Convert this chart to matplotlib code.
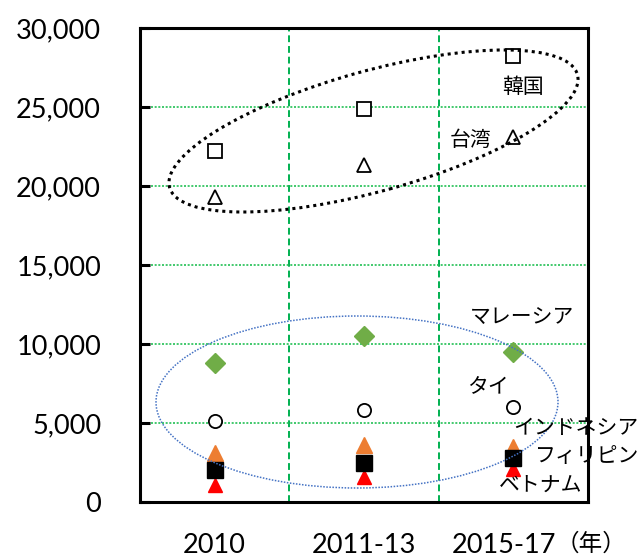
import matplotlib.pyplot as plt
import matplotlib.transforms as mtransforms
from matplotlib.patches import Ellipse
from matplotlib import ticker

periods = ["2010", "2011-13", "2015-17"]
korea = [22200, 24900, 28200]
taiwan = [19300, 21300, 23100]
malaysia = [8800, 10500, 9500]
thailand = [5100, 5800, 6000]
indonesia = [3100, 3600, 3500]
philippines = [2000, 2500, 2800]
vietnam = [1100, 1600, 2100]

W, H = 637, 556
fig = plt.figure(figsize=(W / 100, H / 100), dpi=100)
ax = fig.add_axes([140 / W, 54 / H, 448 / W, 474 / H])

x = [i + 0.5 for i in range(len(periods))]

# series: marker, size, face, edge
ax.plot(x, korea, "s", ms=9.5, mfc="white", mec="black", mew=1.3, zorder=5)
ax.plot(x, taiwan, "^", ms=9.5, mfc="white", mec="black", mew=1.3, zorder=5)
ax.plot(x, malaysia, "D", ms=10, mfc="#70AD47", mec="#70AD47", zorder=5)
ax.plot(x, thailand, "o", ms=9.5, mfc="white", mec="black", mew=1.3, zorder=5)
ax.plot(x, indonesia, "^", ms=12, mfc="#ED7D31", mec="#ED7D31", zorder=5)
ax.plot(x, vietnam, "^", ms=10, mfc="red", mec="red", zorder=6)
ax.plot(x, philippines, "s", ms=11.5, mfc="black", mec="black", zorder=7)

ax.set_xlim(0, 3)
ax.set_ylim(0, 30000)
ax.yaxis.set_major_locator(ticker.MultipleLocator(5000))
ax.yaxis.set_major_formatter(ticker.StrMethodFormatter("{x:,.0f}"))
ax.set_xticks(x)
ax.set_xticklabels(periods)

# grid
for v in [1, 2]:
    ax.axvline(v, color="#00B050", lw=1.4, ls=(0, (3.5, 2)), zorder=1)
for h in range(5000, 30001, 5000):
    ax.axhline(h, color="#22C055", lw=1.2, ls=(0, (1.2, 1)), zorder=1)

for s in ax.spines.values():
    s.set_linewidth(2.2)
    s.set_zorder(8)
ax.tick_params(axis="y", direction="in", length=7, width=2.2, pad=28,
               labelsize=19.5)
ax.tick_params(axis="x", length=0, pad=22, labelsize=19.5)
for lab in ax.get_xticklabels() + ax.get_yticklabels():
    lab.set_family(["Lato", "DejaVu Sans"])

# last period label sits a bit left to make room for the unit
last = ax.get_xticklabels()[-1]
last.set_transform(last.get_transform()
                   + mtransforms.ScaledTranslation(-9 / 100, 0, fig.dpi_scale_trans))

fig.text(556 / W, 1 - 544 / H, "（年）", fontsize=17, va="center",
         family=["Noto Sans CJK JP", "DejaVu Sans"])

# ellipses drawn in pixel space (inches via dpi_scale_trans)
e1 = Ellipse((373.5 / 100, (H - 131) / 100), 2 * 211.6 / 100, 2 * 60.2 / 100,
             angle=15.5, fill=False, ec="black", lw=2.2, ls=(0, (1, 1.3)),
             transform=fig.dpi_scale_trans, zorder=4)
e2 = Ellipse((357 / 100, (H - 402) / 100), 2 * 201 / 100, 2 * 86 / 100,
             fill=False, ec="#4472C4", lw=1.1, ls=(0, (1, 1)),
             transform=fig.dpi_scale_trans, zorder=4)
fig.add_artist(e1)
fig.add_artist(e2)

labels = [
    ("韓国", 523, 87),
    ("台湾", 471, 140),
    ("マレーシア", 522, 317),
    ("タイ", 488, 387),
    ("インドネシア", 576, 428),
    ("フィリピン", 587, 456),
    ("ベトナム", 541, 485),
]
for t, px, py in labels:
    fig.text(px / W, 1 - py / H, t, fontsize=15, ha="center", va="center",
             family=["Noto Sans CJK JP", "DejaVu Sans"], zorder=10)

fig.savefig("out.png", dpi=100)
